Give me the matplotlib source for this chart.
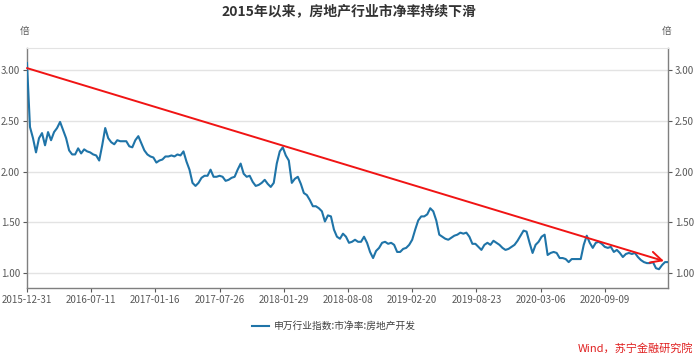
import numpy as np
import matplotlib
matplotlib.use("Agg")
from matplotlib import pyplot as plt

plt.rcParams['font.family'] = ['Noto Sans CJK SC', 'DejaVu Sans']
plt.rcParams['axes.unicode_minus'] = False

# 申万房地产开发 市净率 (倍), sampled about every 6 trading days from 2015-12-31
pb = [
    3.07, 2.44, 2.33, 2.19, 2.33, 2.38, 2.26, 2.39, 2.31, 2.39,
    2.43, 2.49, 2.41, 2.33, 2.21, 2.17, 2.17, 2.23, 2.18, 2.22,
    2.20, 2.19, 2.17, 2.16, 2.11, 2.26, 2.43, 2.33, 2.29, 2.27,
    2.31, 2.30, 2.30, 2.30, 2.25, 2.24, 2.31, 2.35, 2.28, 2.21,
    2.17, 2.15, 2.14, 2.09, 2.11, 2.12, 2.15, 2.15, 2.16, 2.15,
    2.17, 2.16, 2.20, 2.10, 2.02,
    1.89, 1.86, 1.89, 1.94, 1.96, 1.96, 2.02, 1.95, 1.95, 1.96,
    1.95, 1.91, 1.92, 1.94, 1.95, 2.02, 2.08, 1.98, 1.95, 1.96,
    1.90, 1.86, 1.87, 1.89, 1.92, 1.88, 1.85, 1.89, 2.08, 2.20,
    2.24, 2.16, 2.11, 1.89, 1.93, 1.95, 1.88, 1.79, 1.77, 1.72,
    1.66, 1.66, 1.64, 1.61, 1.51, 1.57, 1.56, 1.43, 1.36, 1.34,
    1.39, 1.36, 1.30,
    1.31, 1.33, 1.31, 1.31, 1.36, 1.30, 1.21, 1.15, 1.22, 1.25,
    1.30, 1.31, 1.29, 1.30, 1.28, 1.21, 1.21, 1.24, 1.25, 1.28,
    1.33, 1.43, 1.52, 1.56, 1.56, 1.58, 1.64, 1.61, 1.52, 1.38,
    1.36, 1.34, 1.33, 1.35, 1.37, 1.38, 1.40, 1.39, 1.40, 1.36,
    1.29, 1.29, 1.26, 1.23, 1.28, 1.30, 1.28, 1.32, 1.30, 1.28,
    1.25, 1.23, 1.24,
    1.26, 1.28, 1.32, 1.37, 1.42, 1.41, 1.30, 1.20, 1.28, 1.31,
    1.36, 1.38, 1.18, 1.20, 1.21, 1.20, 1.15, 1.15, 1.14, 1.11,
    1.14, 1.14, 1.14, 1.14, 1.28, 1.37, 1.30, 1.25, 1.30, 1.31,
    1.29, 1.26, 1.25, 1.26, 1.21, 1.23, 1.20, 1.16, 1.19, 1.20,
    1.19, 1.20, 1.16, 1.13, 1.11, 1.10, 1.10, 1.11, 1.05, 1.04,
    1.08, 1.11, 1.11,
]
step_days = 6
tick_every = 128
tick_labels = ['2015-12-31', '2016-07-11', '2017-01-16', '2017-07-26', '2018-01-29',
               '2018-08-08', '2019-02-20', '2019-08-23', '2020-03-06', '2020-09-09']
y_ticks = [1.0, 1.5, 2.0, 2.5, 3.0]
trend_start = 3.02
trend_end = 1.12

x = np.arange(len(pb)) * step_days
x_end = x[-1]

fig = plt.figure(figsize=(6.97, 3.56), dpi=100)
ax = fig.add_axes([0.0387, 0.191, 0.9197, 0.6742])

ax.plot(x, pb, color='#1f74a8', lw=1.5, zorder=3)
ax.annotate('', xy=(x_end - 8, trend_end), xytext=(0, trend_start),
            arrowprops=dict(arrowstyle='->', color='#f01414', lw=1.4,
                            mutation_scale=20, shrinkA=0, shrinkB=0),
            zorder=4)

ax.set_xlim(0, x_end)
ax.set_ylim(0.855, 3.218)
ax.set_xticks(np.arange(len(tick_labels)) * tick_every)
ax.set_xticklabels(tick_labels)
ax.set_yticks(y_ticks)
ax.set_yticklabels(['%.2f' % v for v in y_ticks])
ax.grid(axis='y', color='#e3e3e3', lw=1.0)
ax.set_axisbelow(True)

for side in ['left', 'right', 'bottom']:
    ax.spines[side].set_color('#7f7f7f')
    ax.spines[side].set_linewidth(1.0)
ax.spines['top'].set_color('#e3e3e3')

ax.tick_params(axis='both', labelsize=7, colors='#595959', length=3, width=0.8,
               pad=2)
ax.tick_params(axis='y', right=True, labelright=True)

fig.text(25 / 697, 1 - 31 / 356, '倍', fontsize=7, color='#595959', ha='center', va='center')
fig.text(667 / 697, 1 - 31 / 356, '倍', fontsize=7, color='#595959', ha='center', va='center')

fig.suptitle('2015年以来，房地产行业市净率持续下滑', x=0.5, y=1 - 11 / 356,
             fontsize=10, fontweight='bold', color='#333333', va='center')

leg = ax.legend(['申万行业指数:市净率:房地产开发'], loc='center',
                bbox_to_anchor=(334 / 697, 1 - 326 / 356),
                bbox_transform=fig.transFigure, frameon=False, fontsize=7,
                handlelength=1.7, handletextpad=0.5)
for t in leg.get_texts():
    t.set_color('#404040')

fig.text(0.995, 1 - 348 / 356, 'Wind，苏宁金融研究院', fontsize=8, color='#e02020',
         style='italic', ha='right', va='center')

plt.savefig('out.png', dpi=100)
plt.close()
